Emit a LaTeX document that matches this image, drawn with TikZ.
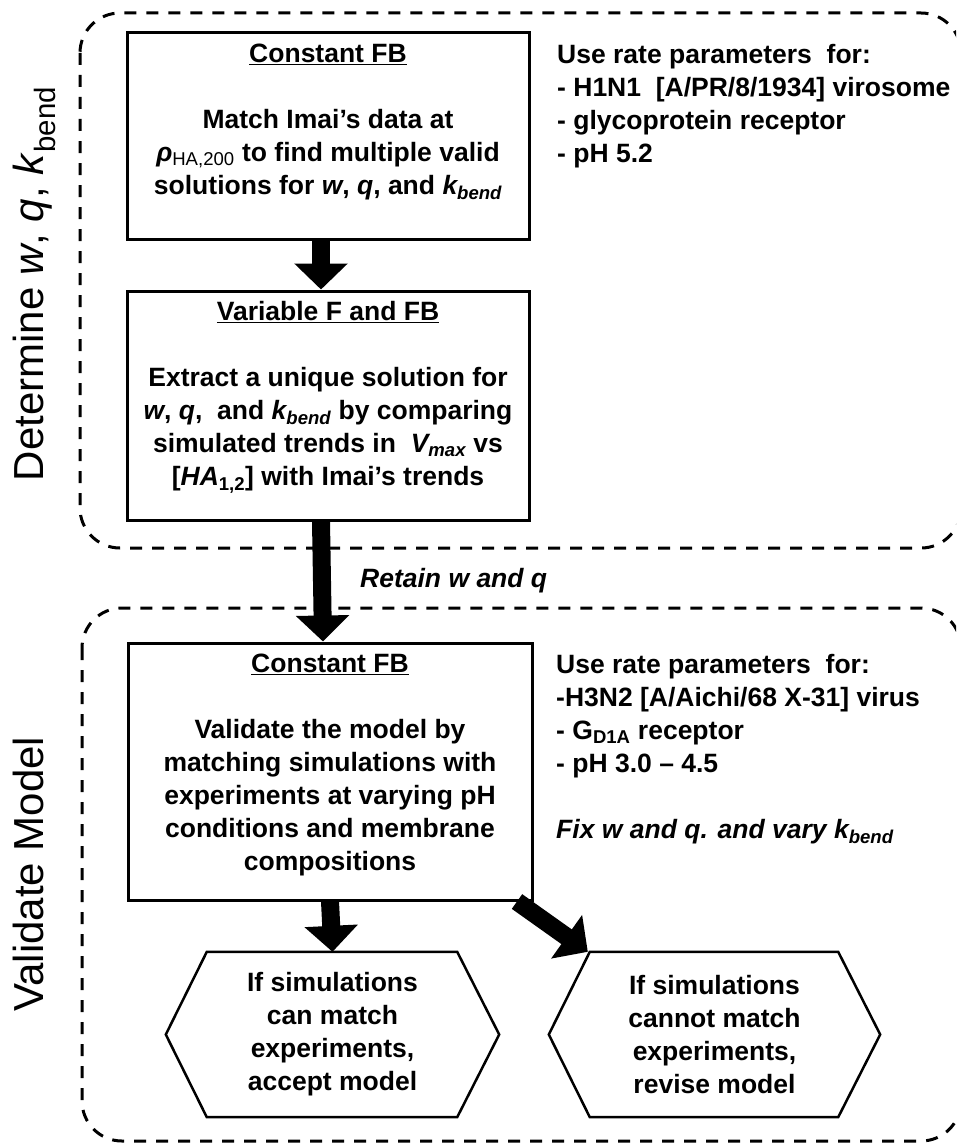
\documentclass[tikz,border=0pt]{standalone}
\usepackage{fontspec}
\setmainfont{Liberation Sans}
\usetikzlibrary{positioning,arrows.meta,calc}

\begin{document}
\begin{tikzpicture}[x=1pt, y=-1pt,
    stagebox/.style={draw, line width=3pt, inner sep=0pt},
    stagetext/.style={align=center, inner sep=0pt, font=\fontsize{26.5}{33}\selectfont\bfseries},
    sidetext/.style={align=left, anchor=north west, inner sep=0pt, font=\fontsize{26.5}{33}\selectfont\bfseries},
    hexbox/.style={align=center, inner sep=0pt, minimum width=333pt, minimum height=165pt, font=\fontsize{26.5}{33}\selectfont\bfseries},
    region/.style={dash pattern=on 12pt off 10pt, line width=3pt, rounded corners=40pt},
    fatarrow/.style={line width=18pt, -{Triangle[width=52pt,length=26pt]}},
    sidelabel/.style={rotate=90, anchor=base, inner sep=0pt, font=\fontsize{42}{50}\selectfont}
  ]
  \useasboundingbox (0,0) rectangle (956,1145);
  \clip (0,0) rectangle (956,1145);

  % Dashed regions
  \draw[region] (80,13) rectangle (961,548);
  \draw[region] (82,608) rectangle (961,1141);

  % Side labels
  \node[sidelabel] (lbldet) at (43,284) {Determine \textit{w}, \textit{q}, \textit{k}\textsubscript{bend}};
  \node[sidelabel] (lblval) at (43,874) {Validate Model};

  % Stage 1: constant FB
  \node[stagebox, minimum width=402pt, minimum height=206pt] (fbconst) at (328,136) {};
  \node[stagetext, below=12pt of fbconst.north] (fbconsttxt) {\underline{Constant FB}\\ \mbox{}\\
    Match Imai’s data at\\
    \textit{ρ}\textsubscript{\mdseries HA,200} to find multiple valid\\
    solutions for \textit{w}, \textit{q}, and \textit{k\textsubscript{bend}}};

  % Stage 2: variable F and FB
  \node[stagebox, minimum width=402pt, minimum height=229pt] (fbvar) at (328,405.5) {};
  \node[stagetext, below=12pt of fbvar.north] (fbvartxt) {\underline{Variable F and FB}\\ \mbox{}\\
    Extract a unique solution for\\
    \textit{w}, \textit{q},\ \ and \textit{k\textsubscript{bend}} by comparing\\
    simulated trends in\ \ \textit{V\textsubscript{max}} vs\\
    {[}\textit{HA}\textsubscript{1,2}] with Imai’s trends};

  % Stage 3: validation
  \node[stagebox, minimum width=404pt, minimum height=257pt] (fbvalid) at (330,771.5) {};
  \node[stagetext, below=12pt of fbvalid.north] (fbvalidtxt) {\underline{Constant FB}\\ \mbox{}\\
    Validate the model by\\
    matching simulations with\\
    experiments at varying pH\\
    conditions and membrane\\
    compositions};

  % Outcomes
  \node[hexbox] (hexyes) at (332.5,1034.5) {If simulations\\ can match\\ experiments,\\ accept model};
  \node[hexbox, minimum width=331pt] (hexno) at (714.5,1034.5) {If simulations\\ cannot match\\ experiments,\\ revise model};
  \foreach \h in {hexyes,hexno}
    \draw[line width=2.5pt] (\h.west) -- ([xshift=41pt]\h.north west) -- ([xshift=-42pt]\h.north east)
      -- (\h.east) -- ([xshift=-42pt]\h.south east) -- ([xshift=41pt]\h.south west) -- cycle;

  % Rate parameters
  \node[sidetext] (paramsA) at (557,44) {Use rate parameters\ \ for:\\
    - H1N1\ \ [A/PR/8/1934] virosome\\
    - glycoprotein receptor\\
    - pH 5.2};
  \node[sidetext] (paramsB) at (556,654) {Use rate parameters\ \ for:\\
    -H3N2 [A/Aichi/68 X-31] virus\\
    - G\textsubscript{D1A} receptor\\
    - pH 3.0 – 4.5\\ \mbox{}\\
    \textit{Fix w and q. and vary k\textsubscript{bend}}};

  \node[anchor=base west, inner sep=0pt, font=\fontsize{26.5}{33}\selectfont\bfseries\itshape] (retain) at (360,587) {Retain w and q};

  % Arrows
  \draw[fatarrow] ([xshift=-7pt]fbconst.south) -- ([xshift=-7pt]fbvar.north);
  \draw[fatarrow] ([xshift=-7pt]fbvar.south) -- ([xshift=-7pt]fbvalid.north);
  \draw[fatarrow] (fbvalid.south) -- (hexyes.north);
  \draw[fatarrow] ([xshift=187pt]fbvalid.south) -- ([xshift=39pt]hexno.north west);
\end{tikzpicture}
\end{document}
